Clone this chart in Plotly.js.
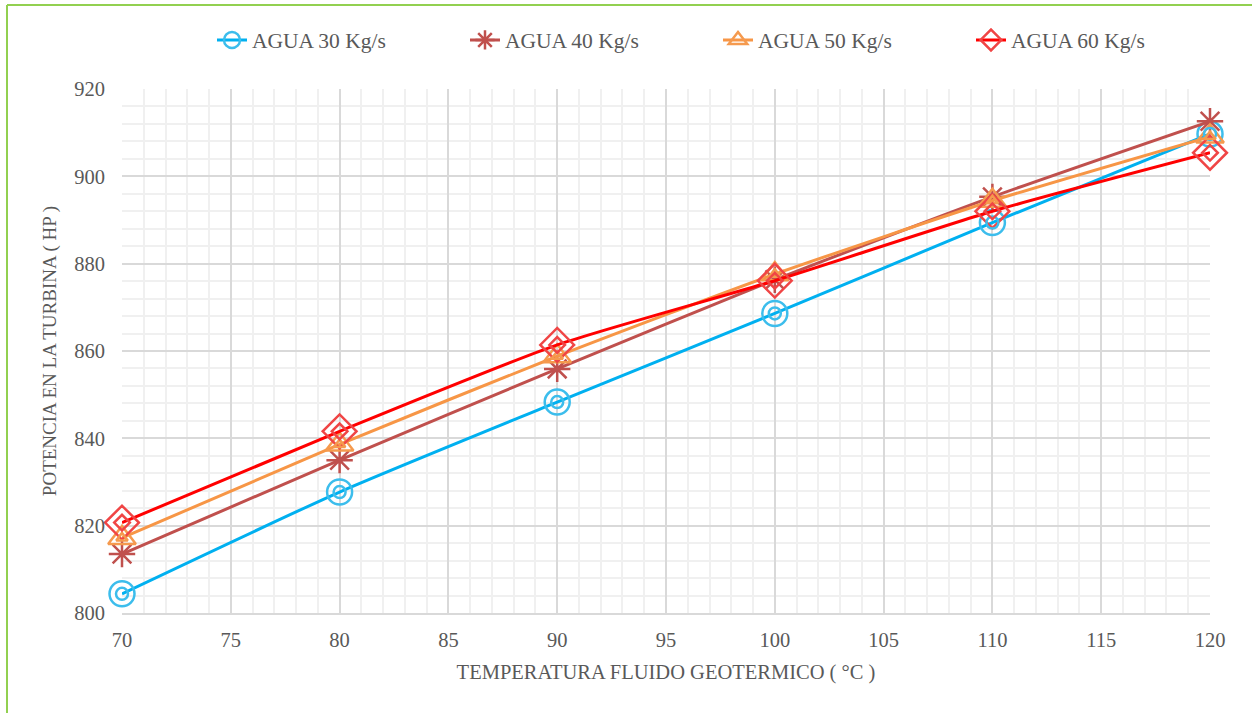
<!DOCTYPE html>
<html>
<head>
<meta charset="utf-8">
<script src="https://cdn.plot.ly/plotly-3.0.1.min.js"></script>
<style>html,body{margin:0;padding:0;background:#fff;}#chart{width:1252px;height:713px;}</style>
</head>
<body>
<div id="chart"></div>
<script>
const temps = [70, 80, 90, 100, 110, 120];
const agua30 = [804.4, 827.7, 848.3, 868.6, 889.4, 909.7];
const agua40 = [813.5, 835.0, 855.9, 876.3, 895.3, 912.6];
const agua50 = [817.2, 838.6, 858.8, 877.6, 894.4, 909.1];
const agua60 = [820.7, 841.6, 861.4, 876.1, 892.0, 905.4];
const seriesNames = ['AGUA 30 Kg/s', 'AGUA 40 Kg/s', 'AGUA 50 Kg/s', 'AGUA 60 Kg/s'];
const xTitle = 'TEMPERATURA FLUIDO GEOTERMICO ( °C )';
const yTitle = 'POTENCIA EN LA TURBINA ( HP )';

const specs = [
  {y: agua30, line: '#00B0F0', mk: '#3CBDEC', sym: 'circle-open', inner: 'circle-open', size: 25, innerSize: 12},
  {y: agua40, line: '#C0504D', mk: '#C0504D', sym: 'asterisk-open', inner: null, size: 22},
  {y: agua50, line: '#F79646', mk: '#F59A4E', sym: 'triangle-up-open', inner: 'triangle-up-open', size: 24, innerSize: 10},
  {y: agua60, line: '#FF0000', mk: '#F04545', sym: 'diamond-open', inner: 'diamond-open', size: 26, innerSize: 12}
];

const traces = [];
specs.forEach((s, i) => {
  traces.push({
    x: temps, y: s.y, name: seriesNames[i], type: 'scatter', mode: 'lines+markers',
    line: {color: s.line, width: 3, shape: 'spline', smoothing: 0.6},
    marker: {symbol: s.sym, size: s.size, color: s.mk, line: {color: s.mk, width: 2.5}},
    legendgroup: 'g' + i, cliponaxis: false
  });
});
specs.forEach((s, i) => {
  if (s.inner) {
    traces.push({
      x: temps, y: s.y, name: seriesNames[i], type: 'scatter', mode: 'markers',
      marker: {symbol: s.inner, size: s.innerSize, color: s.mk, line: {color: s.mk, width: 2.5}},
      showlegend: false, legendgroup: 'g' + i, hoverinfo: 'skip', cliponaxis: false
    });
  }
});

const fontFam = 'Liberation Serif, Times New Roman, serif';
const layout = {
  width: 1252, height: 713,
  margin: {l: 122, r: 42, t: 89, b: 100},
  paper_bgcolor: '#ffffff', plot_bgcolor: '#ffffff',
  font: {family: fontFam, color: '#595959', size: 20},
  showlegend: true,
  legend: {
    orientation: 'h', xref: 'container', yref: 'container',
    x: 212 / 1252, xanchor: 'left', y: 1 - 40 / 713, yanchor: 'middle',
    font: {family: fontFam, size: 21.5, color: '#595959'},
    entrywidth: 208, entrywidthmode: 'pixels', bgcolor: 'rgba(0,0,0,0)'
  },
  xaxis: {
    range: [70, 120], dtick: 5, tick0: 70,
    showgrid: true, gridcolor: '#D9D9D9', gridwidth: 1.5,
    minor: {dtick: 1, showgrid: true, gridcolor: '#F0F0F0', gridwidth: 1.5},
    showline: true, linecolor: '#D9D9D9', linewidth: 1.5,
    zeroline: false, ticks: '', ticklabelstandoff: 8,
    tickfont: {family: fontFam, size: 20.5, color: '#595959'},
    title: {text: xTitle, font: {family: fontFam, size: 20.5, color: '#595959'}, standoff: 14}
  },
  yaxis: {
    range: [800, 920], dtick: 20, tick0: 800,
    showgrid: true, gridcolor: '#D9D9D9', gridwidth: 1.5,
    minor: {dtick: 4, showgrid: true, gridcolor: '#F0F0F0', gridwidth: 1.5},
    showline: false, zeroline: false, ticks: '', ticklabelstandoff: 16,
    tickfont: {family: fontFam, size: 20.5, color: '#595959'},
    title: {text: yTitle, font: {family: fontFam, size: 19, color: '#595959'}, standoff: 12}
  },
  shapes: [
    {type: 'line', xref: 'paper', yref: 'paper', x0: (7 - 122) / 1088, x1: (7 - 122) / 1088, y0: 1 + (89 - 5) / 524, y1: -(713 - 613) / 524 - 0.01, line: {color: '#92D050', width: 2}},
    {type: 'line', xref: 'paper', yref: 'paper', x0: (7 - 122) / 1088, x1: 1.05, y0: 1 + (89 - 5) / 524, y1: 1 + (89 - 5) / 524, line: {color: '#92D050', width: 2}}
  ]
};

Plotly.newPlot('chart', traces, layout, {displayModeBar: false, responsive: false});
</script>
</body>
</html>
